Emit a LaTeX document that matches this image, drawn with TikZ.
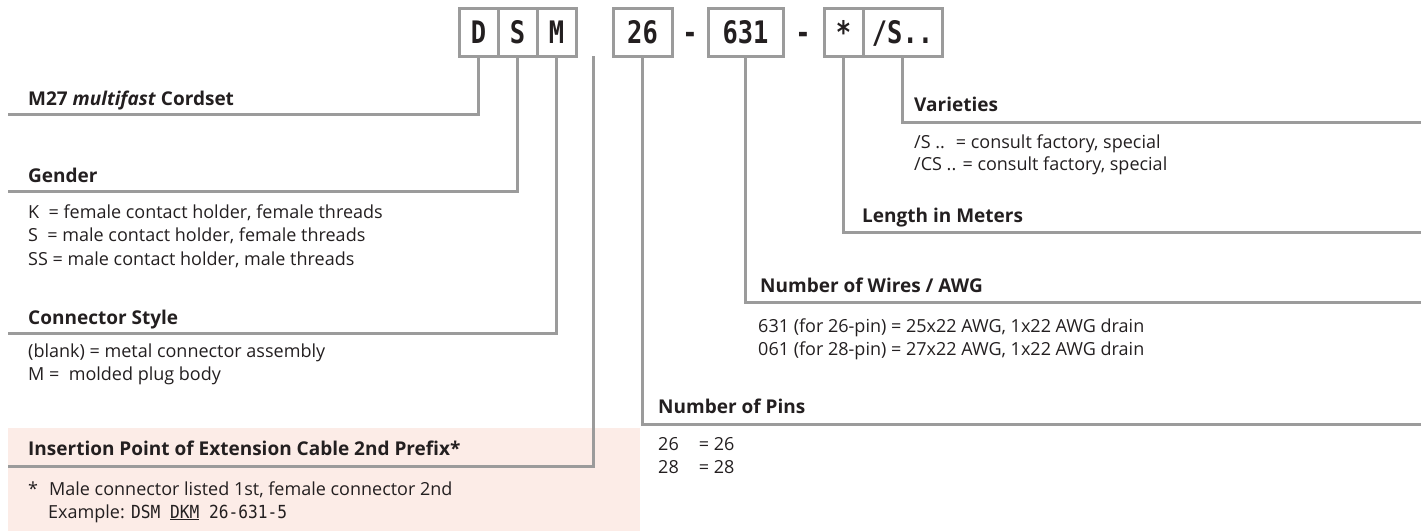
\documentclass[tikz,border=0pt]{standalone}
\usepackage{fontspec}
\setmainfont{Open Sans}
\newfontfamily\codefont[FakeStretch=0.82]{DejaVu Sans Mono}
\newfontfamily\examplefont[FakeStretch=0.9]{DejaVu Sans Mono}
\definecolor{linegray}{RGB}{155,155,155}
\definecolor{textdark}{RGB}{35,31,32}
\definecolor{pinkbg}{RGB}{252,236,231}
\tikzset{
  codebox/.style={draw=linegray, line width=3pt, minimum height=48pt, inner sep=0pt,
    text height=22pt, text depth=0pt, text=textdark,
    font=\codefont\bfseries\fontsize{31}{31}\selectfont},
  lead/.style={draw=linegray, line width=3pt},
  heading/.style={anchor=base west, inner sep=0pt, text=textdark,
    font=\bfseries\fontsize{19}{23}\selectfont},
  entry/.style={anchor=base west, inner sep=0pt, text=textdark,
    font=\fontsize{18}{23}\selectfont}
}
\begin{document}
\begin{tikzpicture}[x=1pt, y=-1pt]
    \useasboundingbox (0,0) rectangle (1421,531);

    % Shaded band behind the insertion note
    \fill[pinkbg] (8,428) rectangle (640,531);

    % Order code boxes along the top
    \node[codebox, minimum width=39pt] (codeD) at (478.5,32) {D};
    \node[codebox, minimum width=39pt] (codeS) at (517.5,32) {S};
    \node[codebox, minimum width=39pt] (codeM) at (556.5,32) {M};
    \node[codebox, minimum width=59pt] (codePins) at (642.5,32) {26};
    \node[codebox, minimum width=75pt] (codeWires) at (745.5,32) {631};
    \node[codebox, minimum width=39pt] (codeLen) at (843.5,32) {*};
    \node[codebox, minimum width=79pt] (codeVar) at (902.5,32) {/S..};
    % Separating dashes
    \node[codebox, draw=none] (dashA) at (690,32) {-};
    \node[codebox, draw=none] (dashB) at (803,32) {-};

    % Free ends of the leader lines
    \coordinate (insTop) at (593,56);
    \coordinate (cordEnd) at (8,114);
    \coordinate (genderEnd) at (8,191);
    \coordinate (styleEnd) at (8,333);
    \coordinate (insEnd) at (8,466);
    \coordinate (varEnd) at (1421,122);
    \coordinate (lenEnd) at (1421,232);
    \coordinate (wiresEnd) at (1421,302);
    \coordinate (pinsEnd) at (1421,424);

    % Leader lines, left side
    \draw[lead] (codeD.south) |- (cordEnd);
    \draw[lead] (codeS.south) |- (genderEnd);
    \draw[lead] (codeM.south) |- (styleEnd);
    \draw[lead] (insTop) |- (insEnd);
    % Leader lines, right side
    \draw[lead] (codeVar.south) |- (varEnd);
    \draw[lead] (codeLen.south) |- (lenEnd);
    \draw[lead] (codeWires.south) |- (wiresEnd);
    \draw[lead] (codePins.south) |- (pinsEnd);

    % Headings sitting on the lines
    \node[heading] (hCord) at (28,105) {M27 \textit{multifast} Cordset};
    \node[heading] (hGender) at (28,182) {Gender};
    \node[heading] (hStyle) at (28,324) {Connector Style};
    \node[heading] (hIns) at (28,455) {Insertion Point of Extension Cable 2nd Prefix*};
    \node[heading] (hVar) at (914,111) {Varieties};
    \node[heading] (hLen) at (862,222) {Length in Meters};
    \node[heading] (hWires) at (760,292) {Number of Wires / AWG};
    \node[heading] (hPins) at (658,413) {Number of Pins};

    % Option lists under the headings
    \foreach \txt [count=\i] in {{K~ = female contact holder, female threads},
        {S~ = male contact holder, female threads}, {SS = male contact holder, male threads}}
        \node[entry] (gender\i) at (28,{218+23.5*(\i-1)}) {\txt};
    \foreach \txt [count=\i] in {{(blank) = metal connector assembly}, {M = ~molded plug body}}
        \node[entry] (style\i) at (28,{357+23.5*(\i-1)}) {\txt};
    \node[entry] (insNote) at (28,495) {*\hspace{11pt}Male connector listed 1st, female connector 2nd};
    \node[entry] (insExample) at (48,518) {Example: \examplefont DSM \underline{DKM} 26-631-5};
    \foreach \txt [count=\i] in {{/S ..~ = consult factory, special}, {/CS .. = consult factory, special}}
        \node[entry] (var\i) at (914,{148+22.5*(\i-1)}) {\txt};
    \foreach \txt [count=\i] in {{631 (for 26-pin) = 25x22 AWG, 1x22 AWG drain},
        {061 (for 28-pin) = 27x22 AWG, 1x22 AWG drain}}
        \node[entry] (wires\i) at (758,{332+23*(\i-1)}) {\txt};
    \foreach \txt [count=\i] in {{26\hspace{20pt}= 26}, {28\hspace{20pt}= 28}}
        \node[entry] (pins\i) at (658,{450+23*(\i-1)}) {\txt};
\end{tikzpicture}
\end{document}
